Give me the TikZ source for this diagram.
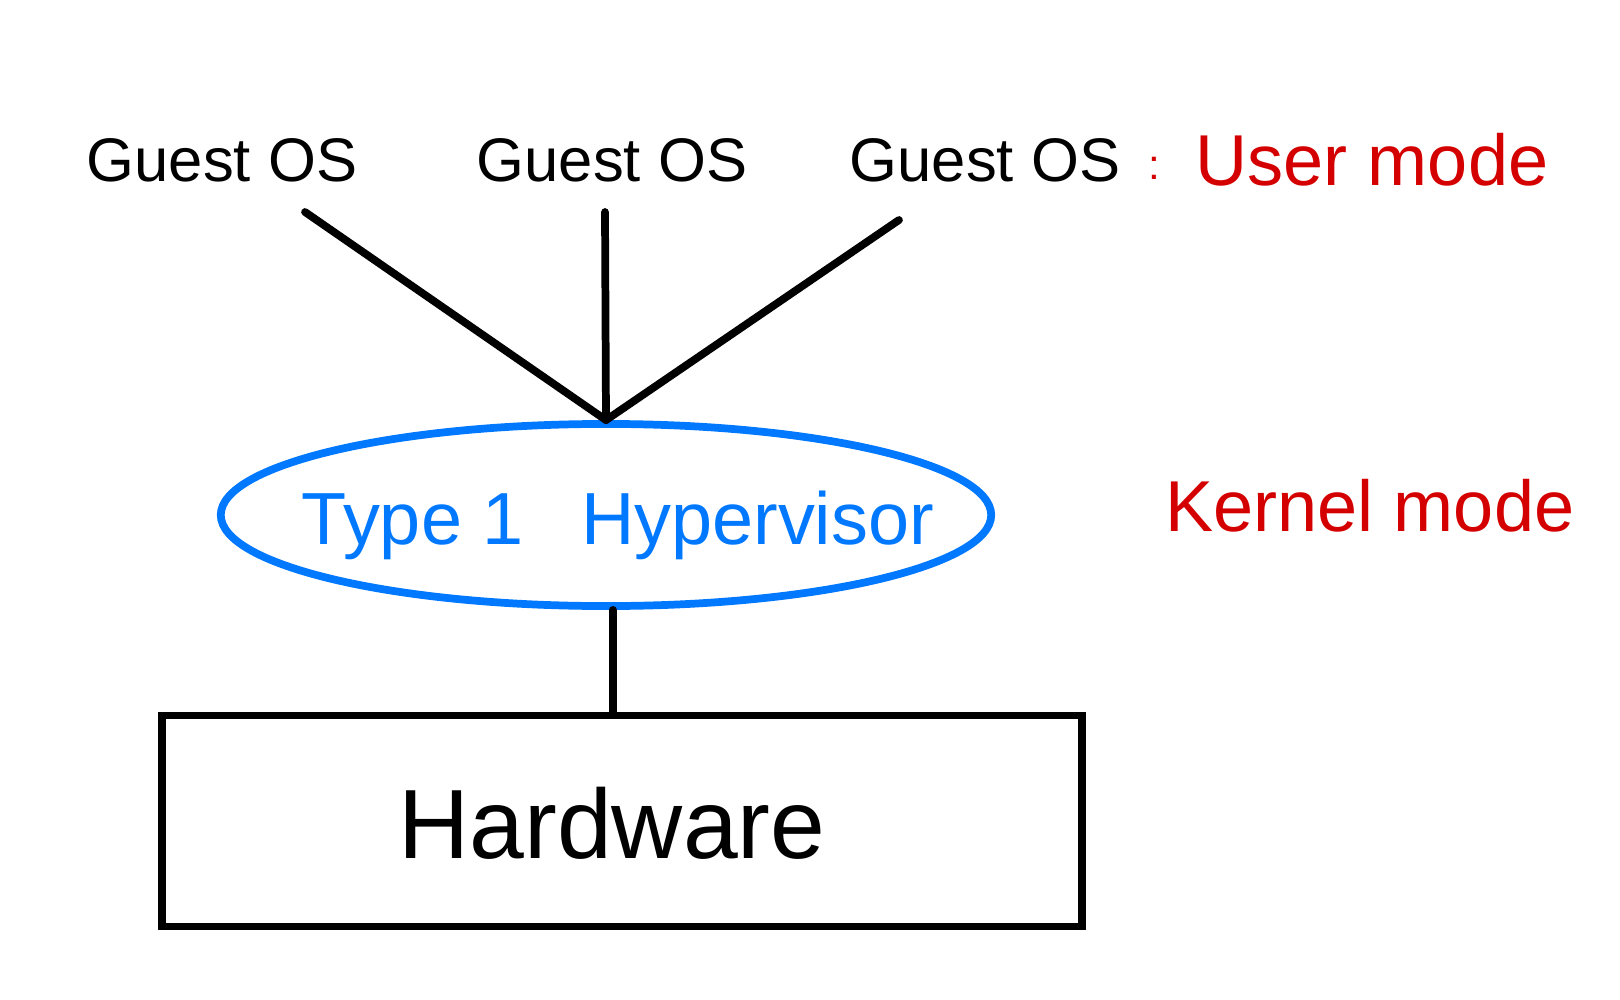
\documentclass[tikz,border=0pt]{standalone}
\usepackage{fontspec}
\setmainfont{Liberation Sans}
\usepackage{tikz}
\definecolor{hypblue}{RGB}{0,120,255}
\definecolor{modered}{RGB}{212,0,0}
\tikzset{>=stealth}
\usetikzlibrary{shapes.geometric, positioning}
\tikzset{
    guest/.style={inner sep=0pt, font=\fontsize{17.5}{20}\selectfont},
    modelabel/.style={inner sep=0pt, text=modered, font=\fontsize{20.5}{24}\selectfont},
    link/.style={line width=2.2pt, line cap=round}
}

\begin{document}
\begin{tikzpicture}[x=0.01cm, y=-0.01cm]
            \useasboundingbox (0,0) rectangle (1620,1000);
            \node[guest] (guest1) at (222,160) {Guest OS};
            \node[guest] (guest2) at (612,160) {Guest OS};
            \node[guest] (guest3) at (985,160) {Guest OS};
            \node[modelabel, font=\fontsize{12}{14}\selectfont] (colon) at (1154,168) {:};
            \node[modelabel] (user) at (1372,160) {User mode};
            \node[draw=hypblue, line width=2.2pt, ellipse, minimum width=7.7cm, minimum height=1.82cm,
                  inner sep=0pt] (hyp) at (606,515) {};
            \node[text=hypblue, inner sep=0pt, font=\fontsize{21}{24}\selectfont] (hyptext) at (618,525)
                  {Type 1\hspace{0.5em} Hypervisor};
            \node[modelabel] (kernel) at (1370,506) {Kernel mode};
            \node[draw, line width=2.2pt, minimum width=9.2cm, minimum height=2.11cm] (hw) at (622,821) {};
            \node[font=\fontsize{28}{32}\selectfont, inner sep=0pt] (hwtext) at (612,823) {Hardware};
            \coordinate (g1) at (305,212);
            \coordinate (g2) at (605,212);
            \coordinate (g3) at (899,220);
            \draw[link] (g1) -- (hyp.north);
            \draw[link] (g2) -- (hyp.north);
            \draw[link] (g3) -- (hyp.north);
            \draw[link] ([xshift=2pt]hyp.south) -- ([xshift=2pt]hyp.south |- hw.north);
        \end{tikzpicture}
\end{document}
